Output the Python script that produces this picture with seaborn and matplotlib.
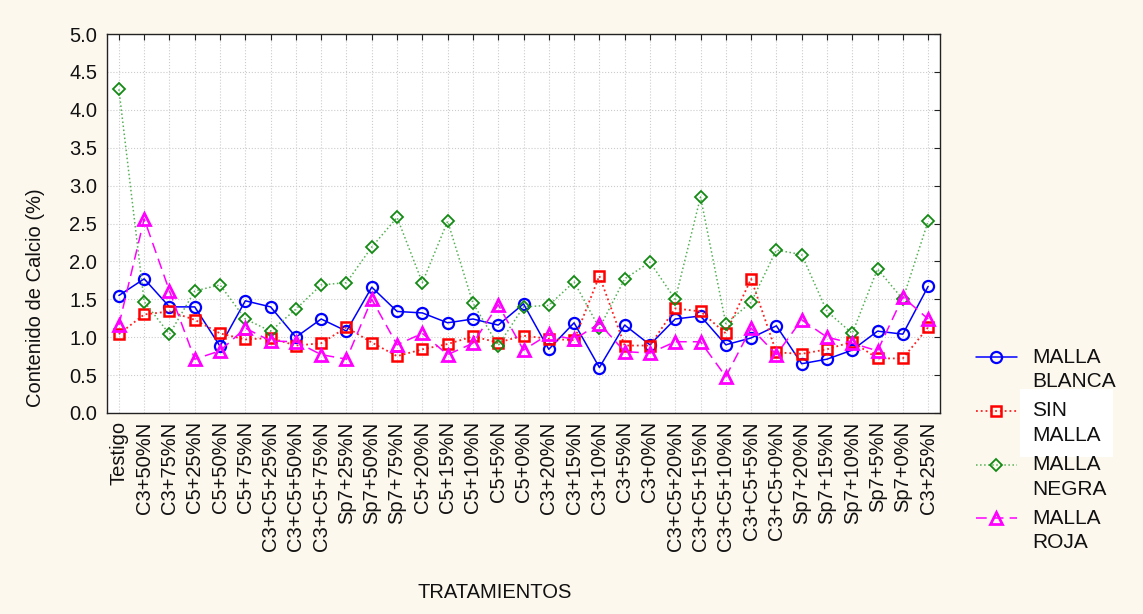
import matplotlib
matplotlib.use("Agg")
import matplotlib.pyplot as plt
import pandas as pd
import seaborn as sns
from matplotlib.legend_handler import HandlerLine2D

# Data
tratamientos = ['Testigo', 'C3+50%N', 'C3+75%N', 'C5+25%N', 'C5+50%N', 'C5+75%N',
                'C3+C5+25%N', 'C3+C5+50%N', 'C3+C5+75%N', 'Sp7+25%N', 'Sp7+50%N',
                'Sp7+75%N', 'C5+20%N', 'C5+15%N', 'C5+10%N', 'C5+5%N', 'C5+0%N',
                'C3+20%N', 'C3+15%N', 'C3+10%N', 'C3+5%N', 'C3+0%N', 'C3+C5+20%N',
                'C3+C5+15%N', 'C3+C5+10%N', 'C3+C5+5%N', 'C3+C5+0%N', 'Sp7+20%N',
                'Sp7+15%N', 'Sp7+10%N', 'Sp7+5%N', 'Sp7+0%N', 'C3+25%N']

malla_blanca = [1.55, 1.77, 1.40, 1.40, 0.88, 1.48, 1.40, 1.00, 1.24, 1.08, 1.66,
                1.34, 1.32, 1.19, 1.24, 1.16, 1.44, 0.84, 1.19, 0.60, 1.16, 0.90,
                1.24, 1.28, 0.90, 0.99, 1.15, 0.65, 0.71, 0.83, 1.08, 1.04, 1.67]
sin_malla = [1.04, 1.30, 1.34, 1.23, 1.05, 0.97, 0.99, 0.89, 0.92, 1.13, 0.93,
             0.75, 0.84, 0.91, 1.01, 0.93, 1.02, 0.98, 0.96, 1.81, 0.89, 0.89,
             1.38, 1.34, 1.05, 1.77, 0.80, 0.78, 0.84, 0.94, 0.72, 0.72, 1.13]
malla_negra = [4.27, 1.47, 1.04, 1.61, 1.69, 1.24, 1.08, 1.37, 1.69, 1.72, 2.19,
               2.58, 1.72, 2.53, 1.45, 0.89, 1.40, 1.42, 1.73, 1.12, 1.77, 1.99,
               1.50, 2.85, 1.18, 1.46, 2.15, 2.09, 1.34, 1.05, 1.90, 1.50, 2.53]
malla_roja = [1.16, 2.56, 1.61, 0.71, 0.82, 1.12, 0.95, 0.94, 0.77, 0.71, 1.50,
              0.90, 1.05, 0.77, 0.92, 1.43, 0.83, 1.04, 0.97, 1.18, 0.81, 0.79,
              0.94, 0.94, 0.48, 1.12, 0.77, 1.23, 1.00, 0.92, 0.82, 1.53, 1.24]

sns.set_style("white")
plt.rcParams['font.family'] = ['Liberation Sans', 'DejaVu Sans']
text_color = '#111111'


class FirstLineHandler(HandlerLine2D):
    """Legend handle drawn next to the first line of a two-line label."""
    def __init__(self, shift, **kw):
        super().__init__(**kw)
        self.shift = shift

    def create_artists(self, legend, orig_handle, xdescent, ydescent, width, height,
                       fontsize, trans):
        artists = super().create_artists(legend, orig_handle, xdescent, ydescent,
                                         width, height, fontsize, trans)
        for a in artists:
            a.set_ydata([y + self.shift for y in a.get_ydata()])
        return artists


df = pd.DataFrame({
    'pos': range(len(tratamientos)),
    'MALLA\nBLANCA': malla_blanca,
    'SIN\nMALLA': sin_malla,
    'MALLA\nNEGRA': malla_negra,
    'MALLA\nROJA': malla_roja,
})

styles = {
    'MALLA\nBLANCA': dict(color='#0000ff', linestyle='-', linewidth=1.1, marker='o',
                          markersize=8, markeredgewidth=1.6, markeredgecolor='#0000ff'),
    'SIN\nMALLA': dict(color='#ff2020', linestyle=':', linewidth=1.3, marker='s',
                       markersize=7.5, markeredgewidth=1.8, markeredgecolor='#ff0000'),
    'MALLA\nNEGRA': dict(color='#55b055', linestyle=':', linewidth=1.1, marker='D',
                         markersize=6.5, markeredgewidth=1.3, markeredgecolor='#138a13'),
    'MALLA\nROJA': dict(color='#ff00ff', linestyle=(0, (7, 4)), linewidth=1.1, marker='^',
                        markersize=8.5, markeredgewidth=2.0, markeredgecolor='#ff00ff'),
}

fig = plt.figure(figsize=(11.43, 6.14), dpi=100, facecolor='#fdf8ee')
ax = fig.add_axes([107 / 1143, 1 - 413 / 614, (940 - 107) / 1143, (413 - 34) / 614])
ax.set_facecolor('white')

for name, st in styles.items():
    sns.lineplot(data=df, x='pos', y=name, ax=ax, sort=False, label=name,
                 markerfacecolor='none', **st)

ax.set_xlim(-0.47, len(tratamientos) - 1 + 0.47)
ax.set_ylim(0, 5)
ax.set_yticks([i * 0.5 for i in range(11)])
ax.set_yticklabels([f'{i * 0.5:.1f}' for i in range(11)])
ax.set_xticks(range(len(tratamientos)))
ax.set_xticklabels(tratamientos, rotation=90)

ax.tick_params(axis='both', direction='in', length=4, width=0.8, top=True, right=True,
               labelsize=14.5, colors='#222222', labelcolor=text_color)
ax.tick_params(axis='y', pad=7)
ax.tick_params(axis='x', pad=6)
ax.grid(True, color='#cccccc', linestyle=':', linewidth=0.8)
for sp in ax.spines.values():
    sp.set_color('#222222')
    sp.set_linewidth(1.0)

ax.set_ylabel('Contenido de Calcio (%)', fontsize=14.5, color=text_color)
ax.yaxis.set_label_coords(-0.075, 0.305)
ax.set_xlabel('TRATAMIENTOS', fontsize=14.5, color=text_color,
              family=['Liberation Sans Narrow', 'Liberation Sans', 'DejaVu Sans'])
ax.xaxis.set_label_coords(0.465, -0.448)

handles, labels = ax.get_legend_handles_labels()
ax.legend_.remove()
leg = fig.legend(handles, labels, loc='center left', bbox_to_anchor=(976 / 1143, 0.267),
                 bbox_transform=fig.transFigure, frameon=False, fontsize=15,
                 handlelength=1.95, handletextpad=0.75, labelspacing=0.5,
                 borderpad=0, borderaxespad=0,
                 handler_map={h: FirstLineHandler(shift=9.0) for h in handles})
for t in leg.get_texts():
    t.set_color(text_color)
    t.set_linespacing(1.36)
leg.get_texts()[1].set_bbox(dict(facecolor='white', edgecolor='none', pad=9))

fig.savefig('out.png', dpi=100, facecolor=fig.get_facecolor())
